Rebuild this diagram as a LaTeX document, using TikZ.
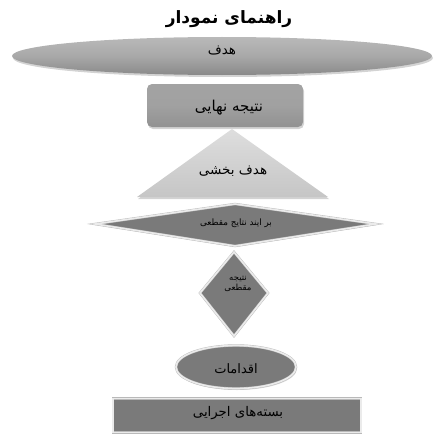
\documentclass[tikz,border=0pt]{standalone}
\usepackage{fontspec}
\newfontfamily\arabicfont[Script=Arabic]{DejaVu Sans}
\newfontfamily\arabicbold[Script=Arabic]{DejaVu Sans Bold}
\TeXXeTstate=1
\usetikzlibrary{shapes.geometric,shadows}
\definecolor{midgray}{RGB}{122,122,122}
\definecolor{lightedge}{RGB}{235,235,235}
\tikzset{
  fa/.style={font=\arabicfont, inner sep=0pt},
  shade1/.style={drop shadow={opacity=0.35, shadow xshift=1pt, shadow yshift=-2pt}},
  bordered/.style={fill=midgray, draw=gray!55, double=lightedge, double distance=1.6pt, line join=miter},
}
\begin{document}
\begin{tikzpicture}[x=1pt,y=-1pt]
\useasboundingbox (0,0) rectangle (435,436);
% title
\node[fa, font=\arabicbold\fontsize{17}{20}\selectfont] (title) at (229,19) {\beginR راهنمای نمودار\endR};
% goal ellipse
\node[ellipse, minimum width=420pt, minimum height=38pt, inner sep=0pt, top color=gray!55, bottom color=gray!92, middle color=gray!68, shade1] (goalshape) at (222,56) {};
\node[fa, font=\arabicfont\fontsize{13.5}{15}\selectfont] (goal) at (222,51) {\beginR هدف\endR};
% final result rounded rectangle
\node[rectangle, rounded corners=5pt, minimum width=156pt, minimum height=43pt, inner sep=0pt, top color=gray!72, bottom color=gray!86, middle color=gray!74, shade1] (finalshape) at (225,105.5) {};
\node[fa, font=\arabicfont\fontsize{15}{17}\selectfont] (final) at (229,108) {\beginR نتیجه نهایی\endR};
% triangle
\path[top color=gray!26, bottom color=gray!45, shade1] (232,129) -- (328,197) -- (137,197) -- cycle;
\node[fa, font=\arabicfont\fontsize{13.5}{15}\selectfont] (subgoal) at (233,171) {\beginR هدف بخشی\endR};
% wide diamond
\path[bordered, drop shadow={opacity=0.3, shadow xshift=0.5pt, shadow yshift=-1pt}] (95,224) -- (235,204) -- (376,224) -- (235,246) -- cycle;
\node[fa, font=\arabicfont\fontsize{8.8}{10}\selectfont] (process) at (236,223) {\beginR بر ایند نتایج مقطعی\endR};
% small diamond
\path[bordered, drop shadow={opacity=0.3, shadow xshift=0.5pt, shadow yshift=-1pt}] (234,252) -- (268,293) -- (234,336) -- (200,293) -- cycle;
\node[fa, font=\arabicfont\fontsize{8.5}{10}\selectfont, align=center] (interim) at (238,284) {\beginR نتیجه\endR\\\beginR مقطعی\endR};
% actions ellipse
\node[ellipse, minimum width=120pt, minimum height=43pt, inner sep=0pt, bordered, drop shadow={opacity=0.3, shadow xshift=1pt, shadow yshift=-1.5pt}] (actionsshape) at (236,367) {};
\node[fa, font=\arabicfont\fontsize{13}{15}\selectfont] (actions) at (236,369) {\beginR اقدامات\endR};
% packages rectangle
\node[rectangle, minimum width=248pt, minimum height=34pt, inner sep=0pt, bordered] (packshape) at (237,415.5) {};
\node[fa, font=\arabicfont\fontsize{13.3}{15}\selectfont] (packages) at (238,413) {\beginR بسته‌های اجرایی\endR};
\end{tikzpicture}
\end{document}
